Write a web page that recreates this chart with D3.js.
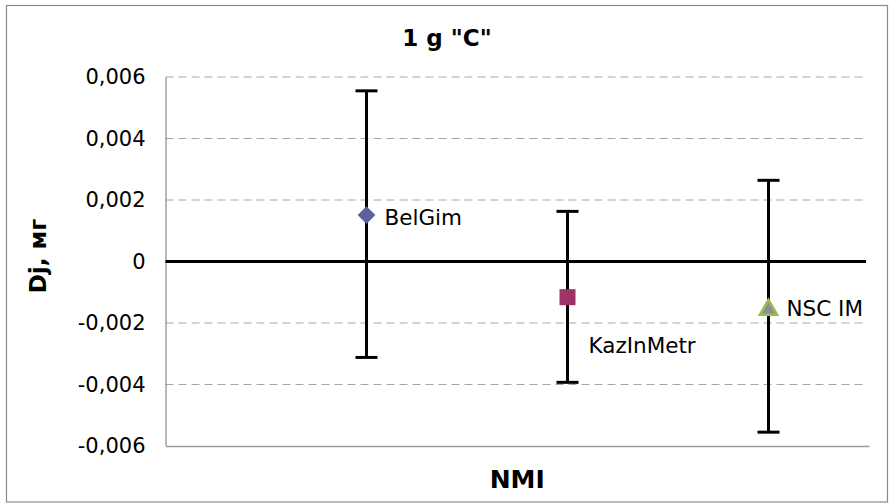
<!DOCTYPE html>
<html><head><meta charset="utf-8">
<script src="https://cdn.jsdelivr.net/npm/d3@7"></script>
<style>html,body{margin:0;padding:0;background:#fff;}svg{display:block;font-family:"DejaVu Sans",sans-serif;}</style>
</head><body>
<svg id="c" width="892" height="504"></svg>
<script>
const title = '1 g "C"';
const yLabel = "Dj, мг";
const xLabel = "NMI";
const categories = ["BelGim", "KazInMetr", "NSC IM"];
const xPositions = [1, 2, 3];
const values = [0.00151, -0.00116, -0.00154];
const errUpper = [0.00555, 0.00163, 0.00264];
const errLower = [-0.00312, -0.00393, -0.00555];
const yTicks = [-0.006, -0.004, -0.002, 0, 0.002, 0.004, 0.006];
const yTickLabels = ["-0,006", "-0,004", "-0,002", "0", "0,002", "0,004", "0,006"];

const svg = d3.select("#c");
const L = 165.5, R = 869, T = 77, B = 446;
const x = d3.scaleLinear().domain([0, 3.5]).range([L, R]);
const y = d3.scaleLinear().domain([-0.006, 0.006]).range([B, T]);

// chart border
svg.append("rect").attr("x", 6.5).attr("y", 5.5).attr("width", 881).attr("height", 496.5)
  .attr("fill", "#fff").attr("stroke", "#8a8a8a").attr("stroke-width", 1.2);

// gridlines
svg.append("g").selectAll("line").data(yTicks.filter(t => t !== 0 && t !== -0.006)).join("line")
  .attr("x1", L).attr("x2", R - 3).attr("y1", d => y(d)).attr("y2", d => y(d))
  .attr("stroke", "#a6a6a6").attr("stroke-width", 1).attr("stroke-dasharray", "8,5");

// axes
const yAxis = d3.axisLeft(y).tickValues(yTicks).tickSize(0).tickPadding(20)
  .tickFormat((d, i) => yTickLabels[i]);
const gy = svg.append("g").attr("transform", `translate(${L},0)`).call(yAxis);
gy.select(".domain").attr("stroke", "#8a8a8a").attr("stroke-width", 1.2);
gy.selectAll("text").attr("font-size", 21).attr("fill", "#000").attr("font-family", "DejaVu Sans");

const xAxis = d3.axisBottom(x).tickValues([]).tickSize(0);
const gx = svg.append("g").attr("transform", `translate(0,${B})`).call(xAxis);
gx.select(".domain").attr("stroke", "#9a9a9a").attr("stroke-width", 1.5);

// zero line
svg.append("line").attr("x1", L).attr("x2", R - 3).attr("y1", y(0)).attr("y2", y(0))
  .attr("stroke", "#000").attr("stroke-width", 3);

// error bars
const eb = svg.append("g").selectAll("g").data(categories).join("g");
eb.append("line").attr("x1", (d, i) => x(xPositions[i])).attr("x2", (d, i) => x(xPositions[i]))
  .attr("y1", (d, i) => y(errUpper[i])).attr("y2", (d, i) => y(errLower[i]))
  .attr("stroke", "#000").attr("stroke-width", 3);
eb.append("line").attr("x1", (d, i) => x(xPositions[i]) - 11).attr("x2", (d, i) => x(xPositions[i]) + 11)
  .attr("y1", (d, i) => y(errUpper[i])).attr("y2", (d, i) => y(errUpper[i]))
  .attr("stroke", "#000").attr("stroke-width", 3);
eb.append("line").attr("x1", (d, i) => x(xPositions[i]) - 11).attr("x2", (d, i) => x(xPositions[i]) + 11)
  .attr("y1", (d, i) => y(errLower[i])).attr("y2", (d, i) => y(errLower[i]))
  .attr("stroke", "#000").attr("stroke-width", 3);

// markers
const cx = i => x(xPositions[i]), cy = i => y(values[i]);
svg.append("path").attr("d", d3.symbol(d3.symbolDiamond2, 200)())
  .attr("transform", `translate(${cx(0)},${cy(0)})`)
  .attr("fill", "#5f5f9f");
svg.append("rect").attr("x", cx(1) - 8).attr("y", cy(1) - 8).attr("width", 16).attr("height", 16)
  .attr("fill", "#9e3366");
svg.append("path").attr("d", d3.symbol(d3.symbolTriangle, 130)())
  .attr("transform", `translate(${cx(2)},${cy(2) + 1})`)
  .attr("fill", "#8e8e8e").attr("stroke", "#9bbb59").attr("stroke-width", 2.5);

// data labels
const labelOffsets = [[18, 10], [21, 56], [18, 7]];
svg.append("g").selectAll("text").data(categories).join("text")
  .attr("x", (d, i) => cx(i) + labelOffsets[i][0]).attr("y", (d, i) => cy(i) + labelOffsets[i][1])
  .attr("font-size", 21.5).attr("fill", "#000").text(d => d);

// titles
svg.append("text").attr("x", 447).attr("y", 46).attr("text-anchor", "middle")
  .attr("font-size", 23).attr("font-weight", "bold").text(title);
svg.append("text").attr("x", (L + R) / 2).attr("y", 488).attr("text-anchor", "middle")
  .attr("font-size", 25).attr("font-weight", "bold").text(xLabel);
svg.append("text").attr("transform", `translate(46,256) rotate(-90)`).attr("text-anchor", "middle")
  .attr("font-size", 23).attr("font-weight", "bold").text(yLabel);
</script>
</body></html>
